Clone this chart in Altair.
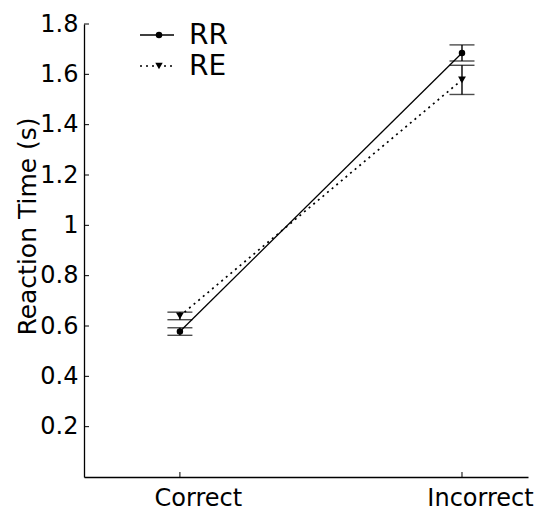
import altair as alt
import pandas as pd

# Mean reaction time (s) and error per condition for the two groups
conditions = ["Correct", "Incorrect"]
cond_pos = [1, 2]
rr_mean = [0.578, 1.685]
rr_err = [0.015, 0.032]
re_mean = [0.640, 1.578]
re_err = [0.015, 0.058]
y_ticks = [0.2, 0.4, 0.6, 0.8, 1.0, 1.2, 1.4, 1.6, 1.8]

FONT = "DejaVu Sans"
W, H = 444, 453

rows = []
for grp, means, errs in (("RR", rr_mean, rr_err), ("RE", re_mean, re_err)):
    for c, p, m, e in zip(conditions, cond_pos, means, errs):
        rows.append({"group": grp, "condition": c, "pos": p, "mean": m,
                     "lo": m - e, "hi": m + e})
df = pd.DataFrame(rows)

label_expr = " : ".join(
    [f"datum.value == {p} ? '{c}'" for p, c in zip(cond_pos, conditions)] + ["''"]
)

x_scale = alt.Scale(domain=[0.66, 2.234], nice=False, zero=False)
y_scale = alt.Scale(domain=[0, 1.8], nice=False, zero=False)

x_axis = alt.Axis(values=cond_pos, labelExpr=label_expr, grid=False, tickSize=0,
                  labelPadding=9, labelOffset=18, labelFontSize=24, labelFont=FONT,
                  labelColor="black", domainColor="black", domainWidth=1.3,
                  labelOverlap=False, labelBound=False, title=None)
y_axis = alt.Axis(values=y_ticks, format=".1~f", grid=False, tickSize=0,
                  labelPadding=6, labelFontSize=24, labelFont=FONT,
                  labelColor="black", domainColor="black", domainWidth=1.3,
                  title="Reaction Time (s)", titleFont=FONT, titleFontSize=25,
                  titleFontWeight="normal", titleColor="black",
                  titleX=-57, titleY=202, titleAlign="center",
                  titleBaseline="middle", titleAngle=-90)


def X():
    return alt.X("pos:Q", scale=x_scale, axis=x_axis)


def Y(field):
    return alt.Y(f"{field}:Q", scale=y_scale, axis=y_axis)


base = alt.Chart(df)
rr = base.transform_filter(alt.datum.group == "RR")
re = base.transform_filter(alt.datum.group == "RE")

line_rr = rr.mark_line(color="black", strokeWidth=1.3).encode(x=X(), y=Y("mean"))
line_re = re.mark_line(color="black", strokeWidth=1.7, strokeDash=[2, 4]).encode(
    x=X(), y=Y("mean"))

bars = base.mark_rule(color="black", strokeWidth=1.4).encode(
    x=X(), y=Y("lo"), y2="hi:Q")
cap_lo = base.mark_tick(orient="horizontal", size=25, thickness=1.4,
                        color="black").encode(x=X(), y=Y("lo"))
cap_hi = base.mark_tick(orient="horizontal", size=25, thickness=1.4,
                        color="black").encode(x=X(), y=Y("hi"))

pts_rr = rr.mark_point(shape="circle", filled=True, size=42, color="black",
                       opacity=1).encode(x=X(), y=Y("mean"))
pts_re = re.mark_point(shape="triangle-down", filled=True, size=62, color="black",
                       opacity=1).encode(x=X(), y=Y("mean"))

# Inward-pointing tick marks
ytick_df = pd.DataFrame({"v": y_ticks})
xtick_df = pd.DataFrame({"p": cond_pos})
yticks = alt.Chart(ytick_df).mark_rule(color="black", strokeWidth=1).encode(
    y=alt.Y("v:Q", scale=y_scale, axis=y_axis), x=alt.value(0), x2=alt.value(5))
xticks = alt.Chart(xtick_df).mark_rule(color="black", strokeWidth=1).encode(
    x=alt.X("p:Q", scale=x_scale, axis=x_axis), y=alt.value(H), y2=alt.value(H - 5))

# Legend
legend_items = [
    {"label": "RR", "ly": 11, "dash": False},
    {"label": "RE", "ly": 42, "dash": True},
]
leg_layers = []
for item in legend_items:
    d = alt.Data(values=[{"label": item["label"]}])
    seg = alt.Chart(d).mark_rule(
        color="black", strokeWidth=1.7 if item["dash"] else 1.3,
        strokeDash=[2, 4] if item["dash"] else [1, 0]).encode(
        x=alt.value(56), x2=alt.value(90), y=alt.value(item["ly"]))
    sym = alt.Chart(d).mark_point(
        shape="triangle-down" if item["dash"] else "circle", filled=True,
        size=55 if item["dash"] else 42, color="black", opacity=1).encode(
        x=alt.value(75), y=alt.value(item["ly"]))
    txt = alt.Chart(d).mark_text(
        font=FONT, fontSize=28, color="black", align="left",
        baseline="middle").encode(
        x=alt.value(105), y=alt.value(item["ly"] + 1), text="label:N")
    leg_layers += [seg, sym, txt]

chart = alt.layer(
    line_rr, line_re, bars, cap_lo, cap_hi, pts_rr, pts_re, yticks, xticks,
    *leg_layers
).properties(
    width=W, height=H,
    padding={"left": 84, "top": 24, "right": 10, "bottom": 35},
    autosize=alt.AutoSizeParams(type="none"),
    background="white",
).configure_view(stroke=None)

chart.save("out.html", embed_options={"renderer": "svg", "actions": False})
